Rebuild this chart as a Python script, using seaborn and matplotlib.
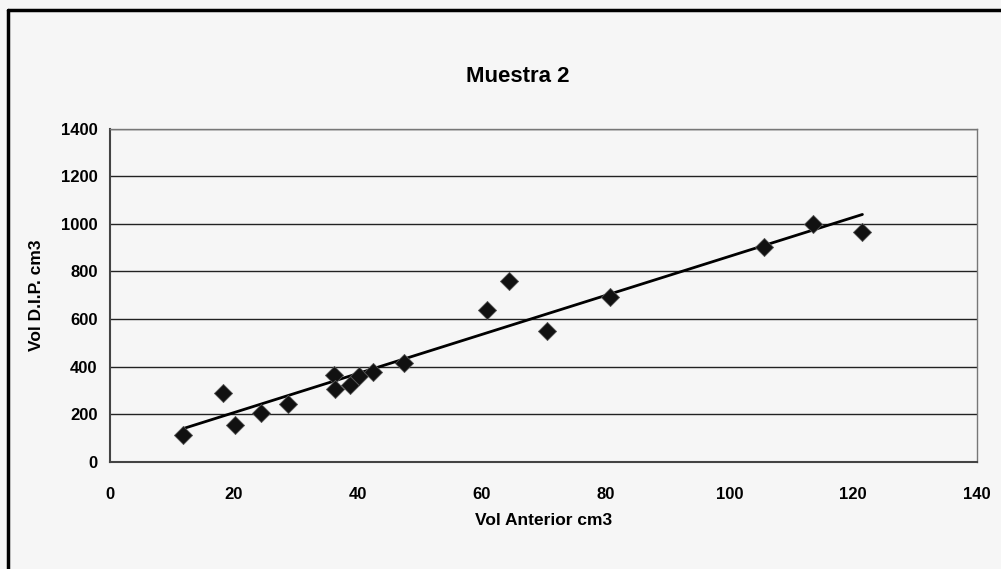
import numpy as np
import pandas as pd
import seaborn as sns
import matplotlib.pyplot as plt
from matplotlib.lines import Line2D

# datos (Muestra 2)
vol_anterior = [11.8, 18.2, 20.2, 24.4, 28.7, 36.1, 36.3, 38.8, 40.2, 42.5, 47.5,
                60.9, 64.5, 70.5, 80.8, 105.6, 113.5, 121.5]
vol_dip = [113, 290, 155, 207, 242, 365, 306, 325, 362, 378, 416,
           640, 761, 549, 692, 904, 1000, 965]

x_ticks = [0, 20, 40, 60, 80, 100, 120, 140]
y_ticks = [0, 200, 400, 600, 800, 1000, 1200, 1400]

df = pd.DataFrame({'Vol Anterior cm3': vol_anterior, 'Vol D.I.P. cm3': vol_dip})

sns.set_style('white')
plt.rcParams['font.family'] = ['Liberation Sans', 'DejaVu Sans']
plt.rcParams['text.color'] = 'black'
plt.rcParams['axes.labelcolor'] = 'black'
plt.rcParams['xtick.color'] = 'black'
plt.rcParams['ytick.color'] = 'black'

fig = plt.figure(figsize=(10.01, 5.69), dpi=100, facecolor='#f6f6f6')
ax = fig.add_axes([0.110, 0.188, 0.866, 0.586])
ax.set_facecolor('#f6f6f6')

# línea de tendencia (regresión lineal)
sns.regplot(data=df, x='Vol Anterior cm3', y='Vol D.I.P. cm3', ax=ax,
            scatter=False, ci=None, truncate=True,
            line_kws={'color': 'black', 'lw': 2, 'zorder': 3})
# puntos
sns.scatterplot(data=df, x='Vol Anterior cm3', y='Vol D.I.P. cm3', ax=ax,
                marker='D', s=85, color='#111111', edgecolor='#555555',
                linewidth=0.6, zorder=4)

ax.set_xlim(0, 140)
ax.set_ylim(0, 1400)
ax.set_xticks(x_ticks)
ax.set_yticks(y_ticks)
ax.set_xticklabels([str(t) for t in x_ticks], fontsize=12, fontweight='bold')
ax.set_yticklabels([str(t) for t in y_ticks], fontsize=12, fontweight='bold')
ax.tick_params(axis='both', direction='out', length=5, width=1, color='#333333', pad=4)
ax.tick_params(axis='x', pad=13)

for y in y_ticks[1:]:
    ax.axhline(y, color='#222222', lw=1, zorder=1)

for side in ['left', 'bottom']:
    ax.spines[side].set_color('#444444')
    ax.spines[side].set_linewidth(1.5)
for side in ['top', 'right']:
    ax.spines[side].set_color('#777777')
    ax.spines[side].set_linewidth(1)

ax.set_xlabel('Vol Anterior cm3', fontsize=12.5, fontweight='bold', labelpad=8)
ax.set_ylabel('Vol D.I.P. cm3', fontsize=12.5, fontweight='bold', labelpad=12)
fig.text(0.517, 0.865, 'Muestra 2', ha='center', va='center',
         fontsize=16, fontweight='bold')

# marco del recorte escaneado
fig.add_artist(Line2D([0.008, 1.0], [0.982, 0.982], color='black', lw=2.5,
                      transform=fig.transFigure))
fig.add_artist(Line2D([0.008, 0.008], [0.0, 0.982], color='black', lw=2.5,
                      transform=fig.transFigure))

fig.savefig('out.png', dpi=100, facecolor=fig.get_facecolor())
